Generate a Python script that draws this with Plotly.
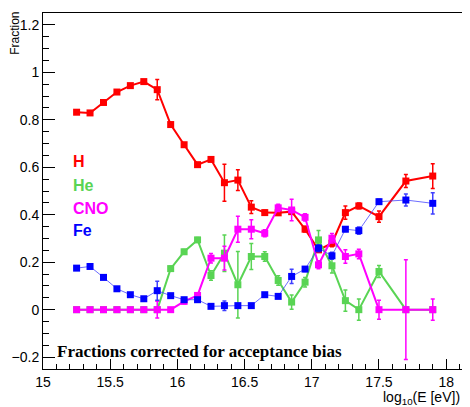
import plotly.graph_objects as go

log_e = [15.25, 15.35, 15.45, 15.55, 15.65, 15.75, 15.85, 15.95, 16.05, 16.15,
         16.25, 16.35, 16.45, 16.55, 16.65, 16.75, 16.85, 16.95, 17.05, 17.15,
         17.25, 17.35, 17.5, 17.7, 17.9]

frac_h = [0.832, 0.829, 0.873, 0.917, 0.944, 0.961, 0.927, 0.780, 0.695, 0.611,
          0.633, 0.535, 0.546, 0.432, 0.409, 0.408, 0.413, 0.339, 0.252, 0.280,
          0.409, 0.437, 0.392, 0.542, 0.563]
err_h = [0.005, 0.005, 0.005, 0.005, 0.005, 0.005, 0.043, 0.008, 0.008, 0.008,
         0.008, 0.078, 0.044, 0.027, 0.010, 0.010, 0.010, 0.012, 0.010, 0.015,
         0.028, 0.012, 0.024, 0.027, 0.052]

frac_he = [0, 0, 0, 0, 0, 0, 0, 0.173, 0.244, 0.294,
           0.144, 0.238, 0.105, 0.224, 0.224, 0.123, 0.032, 0.116, 0.294, 0.185,
           0.038, 0.0, 0.161, 0.0, 0.0]
err_he = [0, 0, 0, 0, 0, 0, 0, 0.010, 0.010, 0.010,
          0.020, 0.077, 0.140, 0.055, 0.020, 0.020, 0.030, 0.020, 0.040, 0.030,
          0.045, 0.045, 0.025, 0, 0]

frac_cno = [0, 0, 0, 0, 0, 0, 0, 0, 0.035, 0.060,
            0.217, 0.217, 0.339, 0.339, 0.322, 0.429, 0.420, 0.389, 0.189, 0.301,
            0.224, 0.235, 0, 0, 0]
err_cno = [0.004, 0.004, 0.004, 0.004, 0.004, 0.004, 0.035, 0.005, 0.010, 0.010,
           0.020, 0.050, 0.055, 0.040, 0.015, 0.015, 0.045, 0.015, 0.017, 0.020,
           0.028, 0.020, 0.040, 0.210, 0.045]

frac_fe = [0.175, 0.182, 0.136, 0.088, 0.063, 0.046, 0.080, 0.059, 0.042, 0.042,
           0.014, 0.017, 0.017, 0.017, 0.063, 0.056, 0.140, 0.171, 0.259, 0.227,
           0.339, 0.333, 0.455, 0.462, 0.448]
err_fe = [0.005, 0.005, 0.005, 0.005, 0.005, 0.005, 0.040, 0.008, 0.005, 0.005,
          0.008, 0.020, 0.005, 0.005, 0.005, 0.005, 0.030, 0.010, 0.015, 0.015,
          0.010, 0.015, 0.010, 0.025, 0.045]

species = ["H", "He", "CNO", "Fe"]

RED = "#ff0000"
GREEN = "#59d454"
MAGENTA = "#ff00ff"
BLUE = "#0000ff"

fig = go.Figure()

def add_series(y, err, color, lw, linecolor=None, errcolor=None):
    fig.add_trace(go.Scatter(
        x=log_e, y=y, mode="lines+markers",
        line=dict(color=linecolor or color, width=lw),
        marker=dict(symbol="square", size=7, color=color, line=dict(width=0)),
        error_y=dict(type="data", array=err, visible=True,
                     color=errcolor or color, thickness=1.5, width=2),
        showlegend=False,
    ))

add_series(frac_h, err_h, RED, 2)
add_series(frac_he, err_he, GREEN, 2)
add_series(frac_cno, err_cno, MAGENTA, 2)
add_series(frac_fe, err_fe, BLUE, 1, linecolor="rgba(60,60,255,0.75)",
           errcolor="rgba(30,30,255,0.85)")

# Legend-like labels
label_colors = [RED, GREEN, MAGENTA, BLUE]
label_y = [0.625, 0.524, 0.428, 0.332]
for name, col, yy in zip(species, label_colors, label_y):
    fig.add_annotation(x=15.205, y=yy, xref="x", yref="y", text=name,
                       showarrow=False, xanchor="left", yanchor="middle",
                       font=dict(family="Liberation Sans, Arial", size=16,
                                 color=col, weight="bold"))

fig.add_annotation(x=15.09, y=-0.175, xref="x", yref="y",
                   text="Fractions corrected for acceptance bias",
                   showarrow=False, xanchor="left", yanchor="middle",
                   font=dict(family="Liberation Serif, Times New Roman", size=17,
                             color="black", weight="bold"))

# Axis titles
fig.add_annotation(x=-0.066, y=1.008, xref="paper", yref="paper", text="Fraction",
                   textangle=-90, showarrow=False, xanchor="center", yanchor="top",
                   font=dict(family="Liberation Sans, Arial", size=12, color="black"))
fig.add_annotation(x=0.993, y=-0.05, xref="paper", yref="paper",
                   text="log<sub>10</sub>(E [eV])",
                   showarrow=False, xanchor="right", yanchor="top",
                   font=dict(family="Liberation Sans, Arial", size=14, color="black"))

axis_font = dict(family="Liberation Sans, Arial", size=14, color="black")

fig.update_xaxes(range=[15.0, 18.14], tick0=15, dtick=0.5, ticks="inside",
                 ticklen=10, tickwidth=1, tickcolor="black",
                 minor=dict(dtick=0.1, tick0=15, ticks="inside", ticklen=5,
                            tickcolor="black", tickwidth=1),
                 showline=True, linecolor="black", linewidth=1, mirror=True,
                 showgrid=False, zeroline=False, tickfont=axis_font)
fig.update_yaxes(range=[-0.25, 1.25], tick0=0, dtick=0.2, ticks="inside",
                 ticklen=12, tickwidth=1, tickcolor="black",
                 minor=dict(dtick=0.05, tick0=0, ticks="inside", ticklen=6,
                            tickcolor="black", tickwidth=1),
                 showline=True, linecolor="black", linewidth=1, mirror=True,
                 showgrid=False, zeroline=False, tickfont=axis_font)

# The page adds an 8px body margin, so the figure is sized 8px smaller
fig.update_layout(width=462, height=399,
                  margin=dict(l=34, r=4, t=4, b=38),
                  paper_bgcolor="white", plot_bgcolor="white",
                  showlegend=False)

fig.write_html("out.html")
